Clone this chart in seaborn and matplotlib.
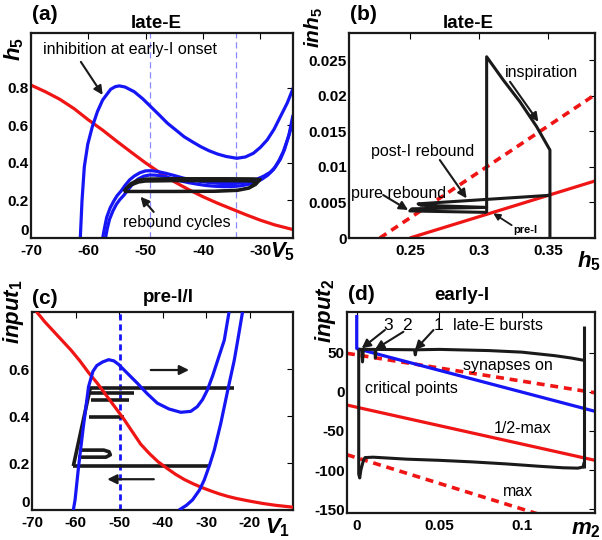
import numpy as np
import matplotlib
matplotlib.use("Agg")
import matplotlib.pyplot as plt
import seaborn as sns

sns.set_theme(style="white")
plt.rcParams['font.family'] = ['Liberation Sans', 'DejaVu Sans']
plt.rcParams['mathtext.fontset'] = 'custom'
plt.rcParams['mathtext.it'] = 'Liberation Sans:italic:bold'
plt.rcParams['mathtext.rm'] = 'Liberation Sans:bold'
plt.rcParams['mathtext.bf'] = 'Liberation Sans:bold'
for k in ['text.color', 'axes.labelcolor', 'xtick.color', 'ytick.color', 'axes.edgecolor']:
    plt.rcParams[k] = 'black'

BLUE = '#1515f5'
RED = '#f01515'
LBLUE = '#8a8aff'

# ---------------- data: panel (a) late-E, V5 vs h5 ----------------
a_red_V = [-70, -67.5, -65, -62.5, -60, -57.5, -55, -52.5, -50, -47.5, -45, -42.5, -40,
           -37.5, -35, -32.5, -30, -27.5, -24.3]
a_red_h = [0.815, 0.78, 0.74, 0.69, 0.63, 0.575, 0.515, 0.457, 0.40, 0.348, 0.30, 0.258, 0.22,
           0.186, 0.155, 0.124, 0.095, 0.07, 0.045]
a_blue_top_V = [-61.4, -61.1, -60.7, -60.1, -59.3, -58.4, -57.5, -56.1, -55.3, -54.6, -53.6,
                -52.0, -50.5, -49.1, -47.6, -46.2, -44.7, -43.3, -41.8, -40.4, -39.0, -37.5,
                -36.0, -34.1, -32.6, -31.2, -30.0, -28.8, -27.6, -26.5, -25.3, -24.2]
a_blue_top_h = [0.0, 0.2, 0.38, 0.5, 0.594, 0.675, 0.736, 0.793, 0.807, 0.811, 0.805,
                0.78, 0.742, 0.70, 0.655, 0.612, 0.575, 0.54, 0.512, 0.487, 0.466, 0.448,
                0.435, 0.425, 0.432, 0.452, 0.483, 0.523, 0.58, 0.647, 0.72, 0.804]
a_blue_l1_V = [-57.5, -57.2, -56.8, -56.2, -55.6, -55.0, -54.3, -53.6, -52.8, -52.0, -51.0,
               -50.0, -49.0, -48.0, -46.5, -45.0, -43.5, -42.0, -40.5, -39.0, -37.5, -36.0,
               -34.5, -33.0, -31.8, -30.5, -29.4, -28.3, -27.4, -26.5, -25.8, -25.0, -24.3]
a_blue_l1_h = [0.0, 0.05, 0.11, 0.16, 0.195, 0.225, 0.25, 0.28, 0.31, 0.33, 0.348,
               0.358, 0.359, 0.355, 0.345, 0.333, 0.32, 0.31, 0.302, 0.296, 0.292, 0.29,
               0.291, 0.295, 0.302, 0.315, 0.33, 0.35, 0.378, 0.42, 0.47, 0.55, 0.656]
a_blue_l2_V = [-57.0, -56.7, -56.3, -55.7, -55.1, -54.5, -53.8, -53.0, -52.2, -51.3, -50.3,
               -49.3, -48.3, -47.0, -45.5, -44.0, -42.5, -41.0, -39.5, -38.0, -36.5, -35.0,
               -33.5, -32.2, -31.0, -29.8, -28.7, -27.7, -26.8, -26.0, -25.2, -24.3]
a_blue_l2_h = [0.0, 0.05, 0.1, 0.145, 0.18, 0.205, 0.228, 0.26, 0.29, 0.315, 0.33,
               0.336, 0.335, 0.33, 0.318, 0.305, 0.295, 0.287, 0.28, 0.276, 0.274, 0.274,
               0.278, 0.285, 0.296, 0.312, 0.335, 0.365, 0.41, 0.46, 0.53, 0.62]
a_cyc1_V = [-53.8, -45, -38, -34, -32, -30.8, -30.0, -31, -36, -45, -50, -51.5, -52.6, -53.4, -53.8]
a_cyc1_h = [0.247, 0.247, 0.248, 0.253, 0.265, 0.285, 0.312, 0.316, 0.317, 0.317, 0.315, 0.308, 0.29, 0.265, 0.247]
a_cyc2_V = [-53.8, -45, -38, -34, -32, -31.2, -30.8, -32, -36, -45, -50, -51.2, -52.4, -53.3, -53.8]
a_cyc2_h = [0.25, 0.25, 0.251, 0.256, 0.268, 0.285, 0.3, 0.303, 0.304, 0.304, 0.302, 0.297, 0.283, 0.265, 0.25]
a_vlines = [-49.3, -34.3]

# ---------------- data: panel (b) late-E, h5 vs inh5 ----------------
b_red_h = [0.25, 0.3838]
b_red_inh = [0.0, 0.0080]
b_redd_h = [0.2283, 0.3838]
b_redd_inh = [0.0, 0.0201]
b_traj_h = [0.3056, 0.3056, 0.3176, 0.3297, 0.3418, 0.3514, 0.3514]
b_traj_inh = [0.0035, 0.02546, 0.0222, 0.01914, 0.01563, 0.01236, 0.0]
b_reb_h = [0.3056, 0.2500, 0.2515, 0.3056, 0.2580, 0.2560, 0.3514]
b_reb_inh = [0.0036, 0.0038, 0.0041, 0.0043, 0.0046, 0.0048, 0.0060]

# ---------------- data: panel (c) pre-I/I, V1 vs input1 ----------------
c_red_V = [-69, -67, -65, -63, -61, -59, -57, -55, -53, -51, -49, -47, -45, -43, -41, -39,
           -37, -35, -33, -31, -29, -27, -25, -23, -20, -17, -14, -10]
c_red_in = [0.845, 0.80, 0.76, 0.72, 0.68, 0.635, 0.585, 0.54, 0.49, 0.44, 0.39, 0.335,
            0.28, 0.24, 0.205, 0.178, 0.152, 0.13, 0.112, 0.096, 0.082, 0.069, 0.058, 0.049,
            0.038, 0.028, 0.02, 0.012]
c_blue1_V = [-60.5, -60.1, -59.3, -58.2, -57.0, -56.0, -55.1, -53.8, -52.4, -51.2, -50.1, -48.5,
             -45.8, -43.5, -41.2, -38.5, -35.8, -33.5, -32.0, -30.8, -29.7, -28.5, -27.3, -25.8, -24.7]
c_blue1_in = [0.0, 0.043, 0.184, 0.354, 0.525, 0.59, 0.615, 0.63, 0.64, 0.635, 0.62, 0.59,
              0.54, 0.495, 0.455, 0.43, 0.416, 0.42, 0.44, 0.47, 0.51, 0.57, 0.638, 0.723, 0.843]
c_blue2_V = [-36.2, -34.5, -33.1, -31.5, -30.4, -29.2, -28.1, -26.6, -25.0, -23.5, -22.7, -21.6]
c_blue2_in = [0.0, 0.02, 0.043, 0.085, 0.128, 0.19, 0.255, 0.369, 0.51, 0.638, 0.723, 0.843]
c_vline = -49.8
c_burst_V = [[-60.5, -56.6], [-60.5, -29.3], [-59.4, -53.0, -52.0, -52.3, -53.5, -58.8],
             [-56.9, -48.9], [-56.4, -47.8], [-56.6, -46.6], [-56.6, -23.5]]
c_burst_in = [[0.187, 0.52], [0.187, 0.187], [0.225, 0.225, 0.235, 0.248, 0.255, 0.255],
              [0.394, 0.394], [0.468, 0.468], [0.5, 0.5], [0.52, 0.52]]

# ---------------- data: panel (d) early-I, m2 vs input2 ----------------
d_blue_m = [0.0, 0.0, 0.1444]
d_blue_in = [98, 55, -25]
d_redd_up_m = [-0.0059, 0.1444]
d_redd_up_in = [49, -1.3]
d_red_m = [-0.0059, 0.1444]
d_red_in = [-17, -87.5]
d_redd_lo_m = [-0.0059, 0.1444]
d_redd_lo_in = [-80.4, -178.5]
d_top_m = [0.0012, 0.003, 0.0035, 0.004, 0.011, 0.0113, 0.0116, 0.035, 0.0355, 0.036,
           0.05, 0.08, 0.1, 0.12, 0.13, 0.1378]
d_top_in = [54, 54, 38, 54, 54, 43, 54, 53.5, 47, 53.5, 54, 52.5, 50.5, 46, 43, 40]
d_right_m = [0.1378, 0.1378]
d_right_in = [-97.7, 84]
d_bot_m = [0.0012, 0.0012, 0.0018, 0.0025, 0.004, 0.005, 0.01, 0.03, 0.05, 0.07, 0.09,
           0.11, 0.125, 0.134, 0.1372, 0.1378]
d_bot_in = [54, -105, -110, -100, -88, -84, -83.5, -86, -87.5, -89.5, -92, -95, -97, -97.5, -96, -90]


def line(ax, x, y, color, lw=2.3, dashes=None, z=2):
    sns.lineplot(x=np.asarray(x, float), y=np.asarray(y, float), ax=ax, sort=False,
                 estimator=None, color=color, linewidth=lw, zorder=z)
    ln = ax.lines[-1]
    if dashes is not None:
        ln.set_dashes(dashes)
    ln.set_solid_capstyle('butt')
    ln.set_solid_joinstyle('round')
    return ln


def arrow(ax, tail, head, lw=1.5, ms=13):
    ax.annotate('', xy=head, xytext=tail,
                arrowprops=dict(arrowstyle='-|>', color='k', lw=lw, mutation_scale=ms,
                                shrinkA=0, shrinkB=0), zorder=6)


def style(ax, xlim, ylim, xt, xtl, yt, ytl):
    ax.set_xlim(xlim)
    ax.set_ylim(ylim)
    ax.set_xticks(xt)
    ax.set_xticklabels(xtl, fontsize=11, fontweight='bold')
    ax.set_yticks(yt)
    ax.set_yticklabels(ytl, fontsize=11, fontweight='bold')
    ax.tick_params(direction='in', top=True, right=True, length=4, width=0.8)
    ax.tick_params(axis='x', pad=4.5)
    ax.tick_params(axis='y', pad=1.5)
    for s in ax.spines.values():
        s.set_visible(True)
        s.set_linewidth(1.6)
        s.set_color('k')
    ax.set_xlabel('')
    ax.set_ylabel('')
    ax.grid(False)


def lift_zero(ax):
    lab = ax.get_yticklabels()[0]
    lab.set_verticalalignment('bottom')


W, H = 602, 540
fig = plt.figure(figsize=(W / 100, H / 100), dpi=100)


def axes_px(l, t, r, b):
    return fig.add_axes([l / W, 1 - b / H, (r - l) / W, (b - t) / H])


def ftext(x, y, s, **kw):
    fig.text(x / W, 1 - y / H, s, **kw)


TXT = 11.5

# ---------- (a) ----------
ax = axes_px(31, 33, 293, 238)
for v in a_vlines:
    ax.axvline(v, color=LBLUE, lw=0.9, dashes=(5, 3), zorder=1)
line(ax, a_red_V, a_red_h, RED)
line(ax, a_blue_top_V, a_blue_top_h, BLUE)
line(ax, a_blue_l1_V, a_blue_l1_h, BLUE)
line(ax, a_blue_l2_V, a_blue_l2_h, BLUE)
line(ax, a_cyc1_V, a_cyc1_h, 'k', lw=2.2, z=3)
line(ax, a_cyc2_V, a_cyc2_h, 'k', lw=2.0, z=3)
style(ax, (-70, -24.3), (0, 1.093), [-70, -60, -50, -40, -30], ['-70', '-60', '-50', '-40', '-30'],
      [0, 0.2, 0.4, 0.6, 0.8], ['0', '0.2', '0.4', '0.6', '0.8'])
lift_zero(ax)
ax.text(-67.9, 1.003, 'inhibition at early-I onset', fontsize=TXT, va='center', ha='left')
arrow(ax, (-61.3, 0.939), (-57.5, 0.763))
ax.text(-54.0, 0.08, 'rebound cycles', fontsize=TXT, va='center', ha='left')
arrow(ax, (-48.6, 0.139), (-50.9, 0.22))
ftext(32, 15, '(a)', fontsize=15, fontweight='bold', ha='left', va='center')
ftext(156, 23, 'late-E', fontsize=13.5, fontweight='bold', ha='center', va='center')
ftext(14, 49, r'$h_5$', fontsize=16, rotation=90, ha='center', va='center')
ftext(283, 252, r'$V_5$', fontsize=16, ha='center', va='center')

# ---------- (b) ----------
ax = axes_px(349, 33, 595, 238)
line(ax, b_red_h, b_red_inh, RED, lw=2.3)
line(ax, b_redd_h, b_redd_inh, RED, lw=2.6, dashes=(2.2, 1.6))
line(ax, b_traj_h, b_traj_inh, 'k', lw=2.2, z=3)
line(ax, b_reb_h, b_reb_inh, 'k', lw=2.2, z=3)
style(ax, (0.206, 0.384), (0, 0.0288), [0.25, 0.3, 0.35], ['0.25', '0.3', '0.35'],
      [0, 0.005, 0.01, 0.015, 0.02, 0.025], ['0', '0.005', '0.01', '0.015', '0.02', '0.025'])
ax.text(0.3188, 0.0233, 'inspiration', fontsize=TXT, va='center', ha='left')
arrow(ax, (0.3225, 0.02195), (0.343, 0.01633))
ax.text(0.2222, 0.01212, 'post-I rebound', fontsize=TXT, va='center', ha='left')
arrow(ax, (0.2717, 0.01096), (0.2911, 0.00557))
ax.text(0.2077, 0.00628, 'pure rebound', fontsize=TXT, va='center', ha='left')
arrow(ax, (0.2307, 0.00604), (0.2488, 0.00393))
ax.text(0.3246, 0.0011, 'pre-I', fontsize=8, fontweight='bold', va='center', ha='left')
arrow(ax, (0.3237, 0.0018), (0.3104, 0.00347), lw=1.3, ms=10)
ftext(350, 14, '(b)', fontsize=15, fontweight='bold', ha='left', va='center')
ftext(468, 23, 'late-E', fontsize=13.5, fontweight='bold', ha='center', va='center')
ftext(314, 27, r'$inh_5$', fontsize=15, rotation=90, ha='center', va='center')
ftext(589, 261, r'$h_5$', fontsize=16, ha='center', va='center')

# ---------- (c) ----------
ax = axes_px(32, 312, 293, 510)
ax.axvline(c_vline, color=BLUE, lw=2.0, dashes=(2.2, 1.4), zorder=1)
for vx, vy in zip(c_burst_V, c_burst_in):
    line(ax, vx, vy, 'k', lw=2.6, z=2)
line(ax, c_red_V, c_red_in, RED, z=3)
line(ax, c_blue1_V, c_blue1_in, BLUE, z=3)
line(ax, c_blue2_V, c_blue2_in, BLUE, z=3)
style(ax, (-70, -10), (0, 0.843), [-70, -60, -50, -40, -30, -20],
      ['-70', '-60', '-50', '-40', '-30', '-20'], [0, 0.2, 0.4, 0.6], ['0', '0.2', '0.4', '0.6'])
lift_zero(ax)
arrow(ax, (-42.7, 0.596), (-33.9, 0.596), lw=1.6, ms=14)
arrow(ax, (-42.0, 0.131), (-52.7, 0.131), lw=1.6, ms=14)
ftext(32, 298, '(c)', fontsize=15, fontweight='bold', ha='left', va='center')
ftext(168, 298, 'pre-I/I', fontsize=13.5, fontweight='bold', ha='center', va='center')
ftext(14, 312, r'$input_1$', fontsize=16, rotation=90, ha='center', va='center')
ftext(278, 528, r'$V_1$', fontsize=16, ha='center', va='center')

# ---------- (d) ----------
ax = axes_px(347, 312, 595, 513)
line(ax, d_redd_up_m, d_redd_up_in, RED, lw=2.6, dashes=(2.2, 1.6))
line(ax, d_red_m, d_red_in, RED)
line(ax, d_redd_lo_m, d_redd_lo_in, RED, lw=2.6, dashes=(2.2, 1.6))
line(ax, d_blue_m, d_blue_in, BLUE)
line(ax, d_top_m, d_top_in, 'k', lw=2.2, z=3)
line(ax, d_right_m, d_right_in, 'k', lw=2.2, z=3)
line(ax, d_bot_m, d_bot_in, 'k', lw=2.2, z=3)
style(ax, (-0.0059, 0.1444), (-154.7, 101.7), [0, 0.05, 0.1], ['0', '0.05', '0.1'],
      [-150, -100, -50, 0, 50], ['-150', '-100', '-50', '0', '50'])
ax.text(0.019, 85, '3', fontsize=TXT + 1, va='center', ha='center')
ax.text(0.0303, 85, '2', fontsize=TXT + 1, va='center', ha='center')
ax.text(0.0495, 85, '1', fontsize=TXT + 1, va='center', ha='center')
ax.text(0.0585, 85, 'late-E bursts', fontsize=TXT, va='center', ha='left')
arrow(ax, (0.0171, 78.8), (0.003, 55.3))
arrow(ax, (0.0283, 76.5), (0.0111, 54))
arrow(ax, (0.0465, 78.7), (0.0353, 53.2))
ax.text(0.0646, 34, 'synapses on', fontsize=TXT, va='center', ha='left')
ax.text(0.005, 4.3, 'critical points', fontsize=TXT, va='center', ha='left')
ax.text(0.0828, -46.7, '1/2-max', fontsize=TXT, va='center', ha='left')
ax.text(0.0885, -127.6, 'max', fontsize=TXT, va='center', ha='left')
ftext(348, 295, '(d)', fontsize=15, fontweight='bold', ha='left', va='center')
ftext(462, 296, 'early-I', fontsize=13.5, fontweight='bold', ha='center', va='center')
ftext(325, 311, r'$input_2$', fontsize=16, rotation=90, ha='center', va='center')
ftext(586, 530, r'$m_2$', fontsize=16, ha='center', va='center')

fig.savefig('out.png', dpi=100, facecolor='white')
